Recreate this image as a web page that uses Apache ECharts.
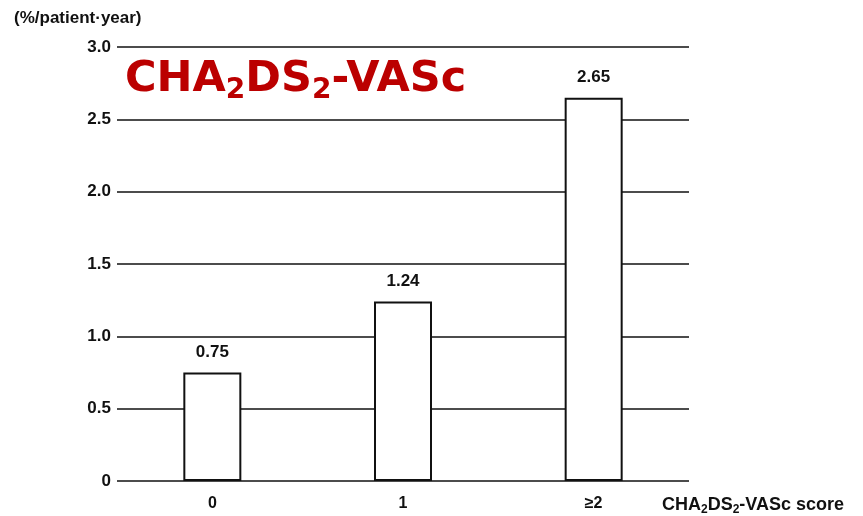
<!DOCTYPE html>
<html>
<head>
<meta charset="utf-8">
<script src="https://cdn.jsdelivr.net/npm/echarts@6/dist/echarts.min.js"></script>
<style>
  html, body { margin: 0; padding: 0; background: #fff; }
  #main { width: 863px; height: 516px; }
</style>
</head>
<body>
<div id="main"></div>
<script>
// data
var scores = ["0", "1", "≥2"];
var rates = [0.75, 1.24, 2.65];

var myChart = echarts.init(document.getElementById("main"));

var txt = { fontFamily: "Liberation Sans", fontWeight: "bold", color: "#111" };

myChart.setOption({
    backgroundColor: "#fff",
    animation: false,
    title: {
        text: "{m|CHA}{s|2}{m|DS}{s|2}{m|-VASc}",
        left: 120,
        top: 50,
        textStyle: {
            rich: {
                m: { fontFamily: "DejaVu Sans", fontWeight: "bold", fontSize: 43, color: "#bb0000", lineHeight: 50 },
                s: { fontFamily: "DejaVu Sans", fontWeight: "bold", fontSize: 28, color: "#bb0000", verticalAlign: "bottom", padding: [20, 0, 0, 0], lineHeight: 50 }
            }
        }
    },
    grid: { left: 117, right: 174, top: 47, bottom: 34 },
    xAxis: {
        type: "category",
        data: scores,
        name: "{m|CHA}{s|2}{m|DS}{s|2}{m|-VASc score}",
        nameLocation: "end",
        nameGap: 0,
        nameTextStyle: {
            align: "left", verticalAlign: "top", padding: [14, 0, 0, -27],
            rich: {
                m: Object.assign({ fontSize: 18 }, txt),
                s: Object.assign({ fontSize: 12, padding: [9, 0, 0, 0] }, txt)
            }
        },
        axisLine: { show: false },
        axisTick: { show: false },
        axisLabel: Object.assign({ fontSize: 16, margin: 15 }, txt)
    },
    yAxis: {
        type: "value",
        min: 0,
        max: 3,
        interval: 0.5,
        name: "(%/patient·year)",
        nameLocation: "end",
        nameGap: 0,
        nameTextStyle: Object.assign({ fontSize: 17, align: "left", padding: [0, 0, 20, -103] }, txt),
        axisLine: { show: false },
        axisTick: { show: false },
        splitLine: { lineStyle: { color: "#111", width: 1.5 } },
        axisLabel: Object.assign({
            fontSize: 17, margin: 6,
            formatter: function (v) { return v === 0 ? "0" : v.toFixed(1); }
        }, txt)
    },
    series: [{
        type: "bar",
        data: rates,
        barWidth: 58,
        itemStyle: { color: "#fff", borderColor: "#111", borderWidth: 2 },
        label: Object.assign({
            show: true,
            position: "top",
            distance: 12,
            fontSize: 17,
            formatter: function (p) { return p.value.toFixed(2); }
        }, txt)
    }]
});
</script>
</body>
</html>
